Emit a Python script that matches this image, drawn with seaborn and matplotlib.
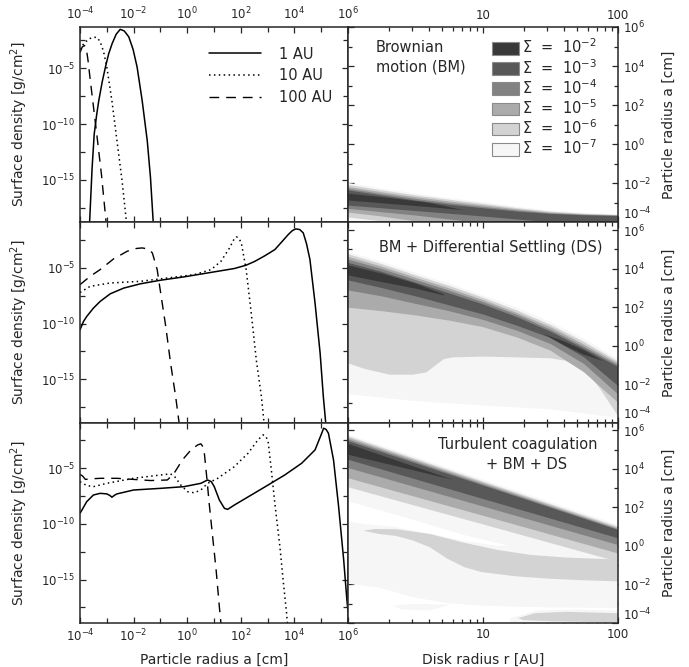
import numpy as np
import pandas as pd
import matplotlib
matplotlib.use('Agg')
import matplotlib.pyplot as plt
import seaborn as sns
from matplotlib.patches import Patch
from matplotlib.lines import Line2D
from matplotlib.ticker import FixedLocator, NullFormatter, FuncFormatter

# --- size distributions (log10 a [cm], log10 Sigma [g/cm^2]) ---
# row 1: Brownian motion
bm_a_1au = [-3.64, -3.55, -3.47, -3.38, -3.30, -3.17, -3.05, -2.93, -2.80, -2.65, -2.50, -2.35, -2.18, -2.02, -1.87, -1.68, -1.49, -1.37, -1.27]
bm_s_1au = [-18.7, -14.0, -10.9, -9.2, -7.9, -6.2, -4.88, -3.7, -2.78, -1.95, -1.51, -1.65, -2.18, -3.3, -4.88, -7.9, -11.5, -14.8, -18.7]
bm_a_10au = [-4.00, -3.85, -3.65, -3.50, -3.37, -3.25, -3.12, -3.00, -2.81, -2.62, -2.43, -2.27]
bm_s_10au = [-3.3, -2.75, -2.35, -2.22, -2.23, -2.6, -3.5, -4.88, -7.9, -11.5, -15.1, -18.7]
bm_a_100au = [-4.00, -3.92, -3.83, -3.76, -3.70, -3.62, -3.50, -3.37, -3.20, -3.03]
bm_s_100au = [-3.6, -3.1, -2.95, -3.3, -4.3, -6.0, -8.4, -11.0, -14.5, -18.7]

# row 2: BM + differential settling
ds_a_1au = [-4.00, -3.87, -3.75, -3.50, -3.25, -2.87, -2.37, -1.74, -0.99, -0.12, 0.76, 1.76, 2.20, 2.52, 2.90, 3.27, 3.55, 3.77, 3.92, 4.05, 4.20, 4.33, 4.45, 4.58, 4.77, 4.96, 5.08, 5.17]
ds_s_1au = [-10.56, -9.81, -9.36, -8.61, -8.01, -7.32, -6.81, -6.42, -6.10, -5.80, -5.45, -5.05, -4.75, -4.41, -3.90, -3.35, -2.60, -2.00, -1.65, -1.49, -1.55, -1.85, -2.80, -4.25, -8.15, -12.66, -16.57, -18.96]
ds_a_10au = [-4.00, -3.62, -2.87, -1.74, -0.74, 0.26, 0.89, 1.26, 1.58, 1.75, 1.83, 1.92, 2.02, 2.20, 2.39, 2.58, 2.77, 2.87]
ds_s_10au = [-7.2, -6.65, -6.35, -6.2, -5.9, -5.6, -5.15, -4.4, -3.2, -2.4, -2.21, -2.3, -2.75, -5.15, -9.05, -13.3, -16.57, -18.96]
ds_a_100au = [-4.00, -3.62, -3.25, -2.75, -2.24, -1.90, -1.68, -1.45, -1.30, -1.12, -0.99, -0.80, -0.62, -0.43, -0.30]
ds_s_100au = [-6.5, -5.75, -5.15, -4.19, -3.5, -3.25, -3.2, -3.3, -3.65, -5.15, -7.25, -10.26, -13.56, -16.57, -18.96]

# row 3: turbulence + BM + DS
tc_a_1au = [-4.00, -3.75, -3.50, -3.25, -3.00, -2.88, -2.81, -2.70, -2.62, -2.00, -0.99, -0.12, 0.51, 0.76, 0.90, 1.01, 1.20, 1.39, 1.51, 1.76, 2.39, 3.02, 3.64, 4.27, 4.77, 5.02, 5.09, 5.18, 5.27, 5.46, 5.65, 5.84, 5.96, 6.00]
tc_s_1au = [-9.05, -8.0, -7.4, -7.25, -7.3, -7.45, -7.6, -7.4, -7.3, -6.95, -6.8, -6.65, -6.35, -6.05, -6.2, -6.65, -7.85, -8.6, -8.69, -8.3, -7.4, -6.5, -5.6, -4.55, -3.35, -1.85, -1.4, -1.5, -1.85, -4.25, -8.45, -13.26, -16.86, -17.9]
tc_a_10au = [-4.00, -3.75, -3.50, -3.00, -2.00, -0.99, -0.62, -0.45, -0.24, 0.01, 0.26, 0.51, 0.76, 1.14, 1.76, 2.27, 2.64, 2.83, 2.93, 3.02, 3.14, 3.27, 3.46, 3.58, 3.71, 3.74]
tc_s_10au = [-6.2, -6.55, -6.65, -6.35, -5.9, -5.6, -5.5, -5.8, -6.5, -7.1, -7.2, -6.95, -6.35, -5.9, -4.85, -3.65, -2.45, -2.0, -2.1, -2.6, -5.15, -8.15, -12.06, -15.06, -18.06, -18.96]
tc_a_100au = [-4.00, -3.90, -3.80, -3.60, -3.25, -2.62, -2.00, -1.37, -0.74, -0.49, -0.18, 0.14, 0.39, 0.51, 0.60, 0.64, 0.74, 0.82, 0.95, 1.08, 1.20, 1.26]
tc_s_100au = [-5.55, -5.7, -6.0, -5.95, -5.9, -5.9, -6.0, -6.1, -6.05, -5.45, -4.25, -3.35, -2.9, -2.8, -3.1, -3.65, -6.05, -8.15, -11.16, -14.16, -17.46, -18.96]

curve_labels = ['1 AU', '10 AU', '100 AU']

# --- contour boundaries (log10 r [AU] -> log10 a [cm]) ---
level_exps = [-7, -6, -5, -4, -3, -2]
level_colors = ['#f6f6f6', '#d3d3d3', '#ababab', '#828282', '#585858', '#393939']

# Brownian motion
bm_r = [0, 0.25, 0.5, 0.75, 1.0, 1.25, 1.5, 1.75, 2.0]
bm_u7 = [-1.98, -2.27, -2.53, -2.76, -2.97, -3.20, -3.40, -3.52, -3.60]
bm_u6 = [-2.08, -2.36, -2.62, -2.84, -3.05, -3.27, -3.45, -3.56, -3.62]
bm_u5 = [-2.19, -2.46, -2.71, -2.93, -3.13, -3.33, -3.50, -3.59, -3.64]
bm_u4 = [-2.28, -2.55, -2.80, -3.02, -3.21, -3.39, -3.54, -3.62, -3.66]
bm_u3 = [-2.36, -2.63, -2.88, -3.10, -3.28, -3.45, -3.57, -3.64, -3.68]
bm_l7 = [-4.3, -4.3, -4.3, -4.3, -4.3, -4.3, -4.3, -4.3, -4.3]
bm_l6 = [-3.75, -3.95, -4.3, -4.3, -4.3, -4.3, -4.3, -4.3, -4.3]
bm_l5 = [-3.50, -3.70, -3.95, -4.3, -4.3, -4.3, -4.3, -4.3, -4.3]
bm_l4 = [-3.31, -3.48, -3.65, -3.85, -4.05, -4.3, -4.3, -4.3, -4.3]
bm_l3 = [-3.14, -3.28, -3.42, -3.56, -3.70, -3.85, -4.0, -4.15, -4.3]
bm_r2 = [0, 0.3, 0.6, 0.86]
bm_u2 = [-2.53, -2.75, -3.0, -3.38]
bm_l2 = [-2.88, -3.05, -3.22, -3.38]

# BM + DS
ds_r = [0, 0.25, 0.5, 0.75, 1.0, 1.25, 1.5, 1.75, 2.0]
ds_u7 = [4.87, 4.35, 3.77, 3.22, 2.61, 1.97, 1.22, 0.35, -0.70]
ds_u6 = [4.75, 4.23, 3.65, 3.10, 2.49, 1.83, 1.08, 0.19, -0.82]
ds_u5 = [4.61, 4.10, 3.53, 2.97, 2.37, 1.70, 0.96, 0.05, -0.92]
ds_u4 = [4.47, 3.98, 3.41, 2.85, 2.26, 1.60, 0.83, -0.07, -1.01]
ds_u3 = [4.30, 3.83, 3.27, 2.71, 2.14, 1.48, 0.73, -0.17, -1.10]
ds_l3 = [3.39, 2.99, 2.56, 2.09, 1.62, 1.04, 0.40, -0.61, -2.09]
ds_l4 = [2.87, 2.56, 2.17, 1.79, 1.34, 0.78, 0.09, -0.96, -2.52]
ds_l5 = [1.97, 1.79, 1.57, 1.30, 0.96, 0.43, -0.26, -1.39, -2.96]
ds_l6_r = [0, 0.13, 0.31, 0.48, 0.58, 0.645, 0.71, 0.78, 1.0, 1.25, 1.5, 1.61, 1.75, 1.86, 2.0]
ds_l6 = [-0.92, -1.22, -1.51, -1.51, -1.39, -1.04, -0.70, -0.61, -0.57, -0.61, -0.66, -0.78, -1.22, -2.17, -3.65]
ds_l7_r = [0, 0.48, 0.98, 1.49, 2.0]
ds_l7 = [-2.52, -2.87, -3.10, -3.30, -3.74]
ds_r2a = [0, 0.25, 0.5, 0.71]
ds_u2a = [4.17, 3.74, 3.22, 2.66]
ds_l2a = [3.65, 3.30, 2.96, 2.61]
ds_r2b = [1.45, 1.6, 1.75, 1.89]
ds_u2b = [0.60, 0.22, -0.25, -0.80]
ds_l2b = [0.60, 0.02, -0.48, -0.80]

# turbulent coagulation + BM + DS
tc_r = [0, 1.0, 2.0]
tc_u7 = [5.79, 3.45, 1.10]
tc_u6 = [5.70, 3.35, 1.00]
tc_u5 = [5.62, 3.28, 0.93]
tc_u4 = [5.53, 3.20, 0.87]
tc_u3 = [5.44, 3.14, 0.83]
tc_l3 = [4.48, 2.44, 0.40]
tc_l4 = [4.05, 2.05, 0.05]
tc_l5 = [3.52, 1.57, -0.39]
tc_l6 = [3.05, 1.12, -0.82]
tc_r2 = [0, 0.4, 0.78]
tc_u2 = [5.30, 4.34, 3.43]
tc_l2 = [4.74, 4.07, 3.43]
tc_l7_r = [0, 0.231, 0.482, 0.733, 0.984, 1.486, 2.0]
tc_l7 = [-1.96, -2.17, -2.66, -2.97, -3.10, -3.19, -3.22]
tc_hole_top_r = [0, 0.482, 0.858, 1.059, 1.184]
tc_hole_top = [2.32, 1.36, 0.57, 0.23, 0.03]
tc_hole_bot_r = [0, 0.13, 0.356, 0.607, 0.858, 1.109]
tc_hole_bot = [1.27, 1.13, 0.98, 0.63, 0.26, 0.0]
tc_tongue_top_r = [0.12, 0.2, 0.356, 0.607, 0.858, 1.109, 1.36, 1.611, 1.787, 2.0]
tc_tongue_top = [0.80, 0.88, 0.87, 0.62, 0.17, -0.21, -0.47, -0.60, -0.65, -0.70]
tc_tongue_bot_r = [0.12, 0.231, 0.356, 0.482, 0.607, 0.733, 0.858, 0.984, 1.235, 1.486, 1.737, 2.0]
tc_tongue_bot = [0.78, 0.62, 0.52, 0.28, -0.07, -0.65, -1.09, -1.35, -1.57, -1.70, -1.78, -1.84]
tc_tail_r = [0.33, 0.5, 0.76, 0.6, 0.4]
tc_tail = [-3.1, -3.0, -3.05, -3.35, -3.3]
tc_halo_r = [1.2, 1.4, 1.7, 2.0, 2.0, 1.2]
tc_halo = [-3.75, -3.35, -3.3, -3.35, -4.1, -4.1]
tc_island_r = [1.26, 1.385, 1.611, 2.0, 2.0, 1.5, 1.3]
tc_island = [-3.75, -3.49, -3.42, -3.49, -3.97, -3.91, -3.85]

panel_texts = ['Brownian\nmotion (BM)', 'BM + Differential Settling (DS)', 'Turbulent coagulation\n+ BM + DS']

# --- style ---
sns.set_style('ticks')
plt.rcParams['font.family'] = ['DejaVu Sans']
plt.rcParams['axes.linewidth'] = 1.1
plt.rcParams['xtick.direction'] = 'in'
plt.rcParams['ytick.direction'] = 'in'
TICK_FS = 8.5
LABEL_FS = 10
TEXT_FS = 10.5

line_styles = [dict(linestyle='-', lw=1.1),
               dict(linestyle=(0, (1, 2.2)), lw=1.1),
               dict(linestyle=(0, (7, 5)), lw=1.0)]


def lg(v):
    return 10.0 ** np.asarray(v, dtype=float)


def fill_band(ax, r_top, a_top, r_bot, a_bot, color):
    xs = np.concatenate([lg(r_top), lg(r_bot)[::-1]])
    ys = np.concatenate([lg(a_top), lg(a_bot)[::-1]])
    ax.fill(xs, ys, color=color, lw=0)


def fill_poly(ax, r, a, color):
    ax.fill(lg(r), lg(a), color=color, lw=0)


def draw_curves(ax, series):
    for (la, ls_), style in zip(series, line_styles):
        df = pd.DataFrame({'a': lg(la), 'sigma': lg(ls_)})
        sns.lineplot(data=df, x='a', y='sigma', ax=ax, color='k', estimator=None,
                     sort=False, **style)


fig = plt.figure(figsize=(6.89, 6.67), dpi=100)
gs = fig.add_gridspec(3, 2, left=80/689, right=618/689, top=1-27/667, bottom=1-623/667,
                      width_ratios=[268, 270], height_ratios=[195, 200, 200],
                      wspace=0, hspace=0)

left_ylims = [(-18.8, -1.3), (-18.9, -0.9), (-18.9, -0.9)]
right_ylims = [(-4, 6), (-4, 6.4), (-4, 6.4)]
curve_sets = [
    [(bm_a_1au, bm_s_1au), (bm_a_10au, bm_s_10au), (bm_a_100au, bm_s_100au)],
    [(ds_a_1au, ds_s_1au), (ds_a_10au, ds_s_10au), (ds_a_100au, ds_s_100au)],
    [(tc_a_1au, tc_s_1au), (tc_a_10au, tc_s_10au), (tc_a_100au, tc_s_100au)],
]

for row in range(3):
    axl = fig.add_subplot(gs[row, 0])
    axr = fig.add_subplot(gs[row, 1])

    # ---------- left: size distributions ----------
    draw_curves(axl, curve_sets[row])
    axl.set_xscale('log')
    axl.set_yscale('log')
    axl.set_xlim(1e-4, 1e6)
    axl.set_ylim(lg(left_ylims[row][0]), lg(left_ylims[row][1]))
    axl.xaxis.set_major_locator(FixedLocator(lg([-4, -2, 0, 2, 4, 6])))
    axl.xaxis.set_minor_locator(FixedLocator(lg([-3, -1, 1, 3, 5])))
    axl.xaxis.set_minor_formatter(NullFormatter())
    axl.yaxis.set_major_locator(FixedLocator(lg([-15, -10, -5])))
    axl.yaxis.set_minor_locator(FixedLocator(lg([-17.5, -12.5, -7.5, -2.5])))
    axl.yaxis.set_minor_formatter(NullFormatter())
    axl.tick_params(which='both', top=True, right=True, labelsize=TICK_FS,
                    labelbottom=(row == 2), labeltop=(row == 0))
    axl.tick_params(which='major', length=4.5, width=0.9)
    axl.tick_params(which='minor', length=3.5, width=0.9)
    axl.set_xlabel('Particle radius a [cm]' if row == 2 else '', fontsize=LABEL_FS)
    axl.set_ylabel('Surface density [g/cm$^2$]', fontsize=LABEL_FS)
    axl.yaxis.set_label_coords(-50/268, 0.5)
    if row == 2:
        axl.xaxis.set_label_coords(0.5, -30/200)

    # ---------- right: contour maps ----------
    if row == 0:
        fill_band(axr, bm_r, bm_u7, bm_r, bm_l7, level_colors[0])
        fill_band(axr, bm_r, bm_u6, bm_r, bm_l6, level_colors[1])
        fill_band(axr, bm_r, bm_u5, bm_r, bm_l5, level_colors[2])
        fill_band(axr, bm_r, bm_u4, bm_r, bm_l4, level_colors[3])
        fill_band(axr, bm_r, bm_u3, bm_r, bm_l3, level_colors[4])
        fill_band(axr, bm_r2, bm_u2, bm_r2, bm_l2, level_colors[5])
    elif row == 1:
        fill_band(axr, ds_r, ds_u7, ds_l7_r, ds_l7, level_colors[0])
        fill_band(axr, ds_r, ds_u6, ds_l6_r, ds_l6, level_colors[1])
        fill_band(axr, ds_r, ds_u5, ds_r, ds_l5, level_colors[2])
        fill_band(axr, ds_r, ds_u4, ds_r, ds_l4, level_colors[3])
        fill_band(axr, ds_r, ds_u3, ds_r, ds_l3, level_colors[4])
        fill_band(axr, ds_r2a, ds_u2a, ds_r2a, ds_l2a, level_colors[5])
        fill_band(axr, ds_r2b, ds_u2b, ds_r2b, ds_l2b, level_colors[5])
    else:
        fill_band(axr, tc_r, tc_u7, tc_l7_r, tc_l7, level_colors[0])
        fill_band(axr, tc_hole_top_r, tc_hole_top, tc_hole_bot_r, tc_hole_bot, 'white')
        fill_poly(axr, tc_tail_r, tc_tail, level_colors[0])
        fill_poly(axr, tc_halo_r, tc_halo, level_colors[0])
        fill_poly(axr, tc_island_r, tc_island, level_colors[1])
        fill_band(axr, tc_tongue_top_r, tc_tongue_top, tc_tongue_bot_r, tc_tongue_bot, level_colors[1])
        fill_band(axr, tc_r, tc_u6, tc_r, tc_l6, level_colors[1])
        fill_band(axr, tc_r, tc_u5, tc_r, tc_l5, level_colors[2])
        fill_band(axr, tc_r, tc_u4, tc_r, tc_l4, level_colors[3])
        fill_band(axr, tc_r, tc_u3, tc_r, tc_l3, level_colors[4])
        fill_band(axr, tc_r2, tc_u2, tc_r2, tc_l2, level_colors[5])

    axr.set_xscale('log')
    axr.set_yscale('log')
    axr.set_xlim(1, 100)
    axr.set_ylim(lg(right_ylims[row][0]), lg(right_ylims[row][1]))
    axr.xaxis.set_major_locator(FixedLocator([1, 10, 100]))
    axr.xaxis.set_major_formatter(FuncFormatter(lambda v, p: '' if v < 5 else f'{v:g}'))
    axr.xaxis.set_minor_locator(FixedLocator([2, 3, 4, 5, 6, 7, 8, 9, 20, 30, 40, 50, 60, 70, 80, 90]))
    axr.xaxis.set_minor_formatter(NullFormatter())
    axr.yaxis.set_major_locator(FixedLocator(lg([-4, -2, 0, 2, 4, 6])))
    axr.yaxis.set_minor_locator(FixedLocator(lg([-3, -1, 1, 3, 5])))
    axr.yaxis.set_minor_formatter(NullFormatter())
    axr.yaxis.set_label_position('right')
    axr.tick_params(which='both', top=True, right=True, left=True, bottom=True,
                    labelleft=False, labelright=True, labelsize=TICK_FS,
                    labelbottom=(row == 2), labeltop=(row == 0))
    axr.tick_params(which='major', length=4.5, width=0.9)
    axr.tick_params(which='minor', length=3.0, width=0.9)
    # the lowest label sits just above the panel edge, as in the original
    axr.yaxis.get_major_ticks()[0].label2.set_va('bottom')
    axr.set_ylabel('Particle radius a [cm]', fontsize=LABEL_FS)
    axr.yaxis.set_label_coords(1 + 44/270, 0.5)
    axr.set_xlabel('Disk radius r [AU]' if row == 2 else '', fontsize=LABEL_FS)
    if row == 2:
        axr.xaxis.set_label_coords(0.5, -30/200)

    if row == 0:
        axr.text(0.104, 0.845, panel_texts[0], transform=axr.transAxes, ha='left',
                 va='center', fontsize=TEXT_FS, linespacing=1.4)
        handles = [Line2D([], [], color='k', **st) for st in line_styles]
        axl.legend(handles, curve_labels, loc='upper left', bbox_to_anchor=(0.48, 0.9),
                   frameon=False, fontsize=TEXT_FS, handlelength=3.6, handletextpad=1.2,
                   labelspacing=0.45, borderpad=0, borderaxespad=0)
        patches = [Patch(facecolor=c, edgecolor='#8a8a8a', lw=0.8) for c in level_colors[::-1]]
        labels = [f'Σ  =  $10^{{{e}}}$' for e in level_exps[::-1]]
        axr.legend(patches, labels, loc='upper left', bbox_to_anchor=(0.535, 0.945),
                   frameon=False, fontsize=TEXT_FS, handlelength=1.85, handleheight=0.95,
                   handletextpad=0.2, labelspacing=0.1, borderpad=0, borderaxespad=0)
    elif row == 1:
        axr.text(0.528, 0.875, panel_texts[1], transform=axr.transAxes, ha='center',
                 va='center', fontsize=TEXT_FS)
    else:
        axr.text(0.63, 0.89, 'Turbulent coagulation', transform=axr.transAxes,
                 ha='center', va='center', fontsize=TEXT_FS)
        axr.text(0.663, 0.79, '+ BM + DS', transform=axr.transAxes,
                 ha='center', va='center', fontsize=TEXT_FS)

fig.savefig('out.png', dpi=100)
